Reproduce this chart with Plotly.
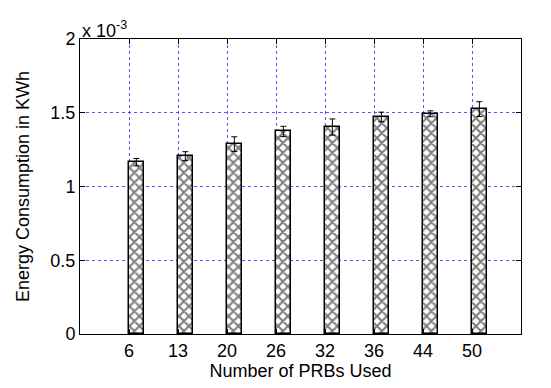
import plotly.graph_objects as go

# Energy consumption per PRB allocation (values in units of 1e-3 KWh)
prb_labels = ["6", "13", "20", "26", "32", "36", "44", "50"]
energy_e3 = [1.165, 1.206, 1.287, 1.373, 1.403, 1.471, 1.493, 1.525]
error_e3 = [0.025, 0.030, 0.050, 0.035, 0.055, 0.033, 0.020, 0.050]
y_ticks = [0, 0.5, 1, 1.5, 2]

positions = list(range(1, len(prb_labels) + 1))
bar_shift = 0.15   # bars sit right of the tick, as in a two-group bar layout
bar_width = 0.32

FONT = "Liberation Sans, Arial, Helvetica, sans-serif"
FS = 18

fig = go.Figure()
fig.add_trace(go.Bar(
    x=[p + bar_shift for p in positions],
    y=energy_e3,
    width=bar_width,
    marker=dict(
        color="white",
        line=dict(color="black", width=1.5),
        pattern=dict(shape="x", fgcolor="black", bgcolor="white", size=7, solidity=0.5),
    ),
    error_y=dict(type="data", array=error_e3, visible=True, color="black",
                 thickness=1, width=3),
    showlegend=False,
))

axis_common = dict(
    showline=True, linecolor="black", linewidth=1, mirror="ticks",
    ticks="inside", ticklen=5, tickcolor="black",
    showgrid=True, gridcolor="rgba(40,40,255,0.8)", griddash="dot", gridwidth=1,
    zeroline=False,
    tickfont=dict(family=FONT, size=FS, color="black"),
)

fig.update_layout(
    width=551, height=388,
    margin=dict(l=80, r=30, t=39, b=54),
    plot_bgcolor="white", paper_bgcolor="white",
    bargap=0,
    xaxis=dict(
        range=[0, 9],
        tickmode="array", tickvals=positions, ticktext=prb_labels,
        title=dict(text="Number of PRBs Used", font=dict(family=FONT, size=FS, color="black"), standoff=0),
        **axis_common,
    ),
    yaxis=dict(
        range=[0, 2],
        tickmode="array", tickvals=y_ticks, ticktext=["0", "0.5", "1", "1.5", "2"],
        title=dict(text="Energy Consumption in KWh", font=dict(family=FONT, size=FS, color="black"), standoff=16),
        **axis_common,
    ),
    annotations=[dict(
        text="x 10<sup>-3</sup>", xref="paper", yref="paper", x=0, y=1,
        xanchor="left", yanchor="bottom", showarrow=False, yshift=-4,
        font=dict(family=FONT, size=FS, color="black"),
    )],
)

fig.write_html("out.html")
